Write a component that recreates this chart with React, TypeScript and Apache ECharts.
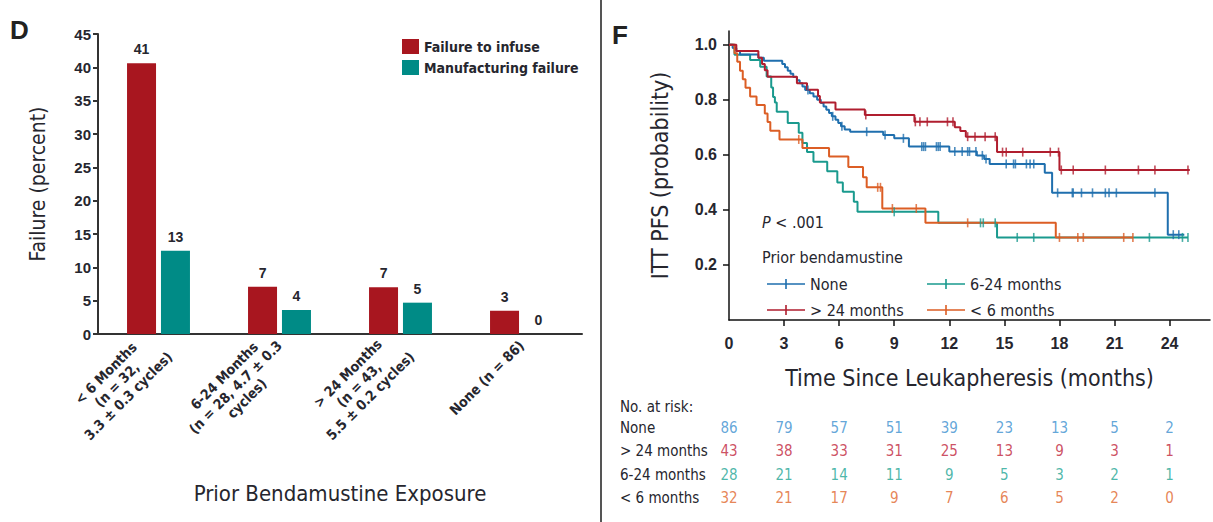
import React, { useEffect, useRef } from "react";
import * as echarts from "echarts";

// ---------- Panel D data ----------
const barCategories = [
  "< 6 Months\n(n = 32,\n3.3 ± 0.3 cycles)",
  "6-24 Months\n(n = 28, 4.7 ± 0.3\ncycles)",
  "> 24 Months\n(n = 43,\n5.5 ± 0.2 cycles)",
  "None (n = 86)",
];
const failureToInfuse = [40.6, 7.1, 7.0, 3.5];
const failureToInfuseLabels = ["41", "7", "7", "3"];
const manufacturingFailure = [12.5, 3.6, 4.7, 0];
const manufacturingFailureLabels = ["13", "4", "5", "0"];

// ---------- Panel F data (time in months, survival probability after step) ----------
const kmNone = [
  [0, 1.0], [0.2, 0.988], [0.4, 0.977], [0.6, 0.965], [1.6, 0.953], [1.9, 0.942], [2.9, 0.93],
  [3.05, 0.918], [3.2, 0.906], [3.35, 0.895], [3.5, 0.883], [3.7, 0.871], [3.85, 0.86], [4.0, 0.848],
  [4.15, 0.836], [4.4, 0.824], [4.6, 0.812], [4.8, 0.8], [5.0, 0.788], [5.15, 0.776], [5.3, 0.764],
  [5.45, 0.752], [5.6, 0.74], [5.8, 0.728], [5.95, 0.716], [6.1, 0.704], [6.3, 0.692], [6.6, 0.684],
  [8.4, 0.672], [9.0, 0.66], [9.8, 0.63], [12.0, 0.612], [13.5, 0.598], [13.9, 0.585], [14.2, 0.567],
  [17.2, 0.535], [17.6, 0.462], [23.9, 0.31], [24.8, 0.31],
];
const kmOver24 = [
  [0, 1.0], [0.4, 0.977], [1.6, 0.953], [1.8, 0.93], [1.95, 0.907], [2.1, 0.884], [3.7, 0.86],
  [4.25, 0.837], [4.85, 0.814], [4.95, 0.79], [5.8, 0.765], [7.4, 0.745], [10.1, 0.72], [12.3, 0.7],
  [12.6, 0.687], [12.9, 0.666], [14.6, 0.61], [18.0, 0.545], [25.1, 0.545],
];
const km6to24 = [
  [0, 1.0], [0.3, 0.964], [1.15, 0.945], [1.7, 0.92], [2.05, 0.885], [2.3, 0.845], [2.4, 0.81],
  [2.5, 0.79], [2.6, 0.757], [3.2, 0.716], [3.8, 0.68], [4.0, 0.643], [4.25, 0.61], [4.6, 0.575],
  [5.35, 0.54], [5.9, 0.5], [6.2, 0.466], [6.8, 0.43], [7.0, 0.393], [11.4, 0.353], [14.6, 0.3],
  [25.0, 0.3],
];
const kmUnder6 = [
  [0, 1.0], [0.3, 0.969], [0.45, 0.938], [0.6, 0.906], [0.75, 0.875], [0.9, 0.844], [1.15, 0.812],
  [1.5, 0.781], [1.95, 0.75], [2.1, 0.719], [2.25, 0.688], [2.75, 0.656], [4.0, 0.625], [5.45, 0.594],
  [6.5, 0.556], [7.3, 0.519], [7.5, 0.482], [8.35, 0.405], [10.7, 0.353], [17.8, 0.3], [22.0, 0.3],
];

// censoring times (months)
const censorNone = [4.3, 5.65, 6.15, 7.5, 8.5, 9.5, 10.5, 10.6, 10.7, 11.3, 11.4, 11.5, 12.3, 12.7, 13.0,
  13.1, 13.45, 13.8, 14.0, 15.1, 15.5, 15.6, 16.2, 16.4, 16.6, 17.9, 18.7, 18.75, 19.2, 19.8, 20.5,
  20.7, 21.1, 23.2, 24.2, 24.5];
const censorOver24 = [7.45, 10.15, 10.4, 10.8, 11.9, 12.2, 13.0, 13.4, 13.95, 14.5, 14.9, 15.1, 16.0,
  17.5, 17.95, 18.1, 18.75, 20.5, 22.3, 23.2, 25.0];
const censor6to24 = [9.0, 13.7, 13.85, 14.5, 15.7, 16.6, 22.9, 24.7, 25.0];
const censorUnder6 = [3.8, 8.1, 8.25, 8.9, 10.2, 13.0, 18.0, 19.0, 19.3, 21.5, 22.0];

// numbers at risk
const riskTimes = [0, 3, 6, 9, 12, 15, 18, 21, 24];
const riskRows = ["None", "> 24 months", "6-24 months", "< 6 months"];
const riskNone = [86, 79, 57, 51, 39, 23, 13, 5, 2];
const riskOver24 = [43, 38, 33, 31, 25, 13, 9, 3, 1];
const risk6to24 = [28, 21, 14, 11, 9, 5, 3, 2, 1];
const riskUnder6 = [32, 21, 17, 9, 7, 6, 5, 2, 0];

const xTicksF = [3, 6, 9, 12, 15, 18, 21, 24];
const xLabelsF = [0, 3, 6, 9, 12, 15, 18, 21, 24];
const yTicksF = [0.2, 0.4, 0.6, 0.8, 1.0];

const NARROW =
  "'Liberation Sans Narrow', 'Arial Narrow', 'DejaVu Sans Condensed', 'Liberation Sans', Arial, sans-serif";
const SANS = "'Liberation Sans', Arial, Helvetica, sans-serif";
const TXT = "#26262e";

const C_RED_BAR = "#a8161f";
const C_TEAL_BAR = "#008b86";
const C_BLUE = "#1f6fae";
const C_RED = "#b01e2f";
const C_TEAL = "#1a9a8e";
const C_ORANGE = "#dc5e25";
const R_BLUE = "#3b8fcf";
const R_RED = "#c0233a";
const R_TEAL = "#1ea593";
const R_ORANGE = "#e0662b";

function survivalAt(curve: number[][], t: number) {
  let s = curve[0][1];
  for (const [ti, si] of curve) {
    if (ti <= t) s = si;
    else break;
  }
  return s;
}

function kmSeries(name: string, curve: number[][], color: string, z: number) {
  return {
    type: "line",
    name,
    xAxisIndex: 1,
    yAxisIndex: 1,
    step: "end",
    data: curve,
    symbol: "none",
    z,
    lineStyle: { color, width: 2 },
    itemStyle: { color },
    silent: true,
  };
}

function censorSeries(name: string, curve: number[][], times: number[], color: string, z: number) {
  return {
    type: "scatter",
    name: name + " censored",
    xAxisIndex: 1,
    yAxisIndex: 1,
    data: times.map((t) => [t, survivalAt(curve, t)]),
    symbol: "rect",
    symbolSize: [1.6, 9],
    itemStyle: { color },
    z,
    silent: true,
  };
}

function riskSeries(row: string, counts: number[], color: string) {
  return {
    type: "scatter",
    name: "risk " + row,
    xAxisIndex: 2,
    yAxisIndex: 2,
    data: riskTimes.map((t, i) => [t, row, counts[i]]),
    symbolSize: 1,
    itemStyle: { color: "transparent" },
    label: {
      show: true,
      position: "inside",
      formatter: (p: any) => String(p.value[2]),
      color,
      fontSize: 15,
      fontFamily: NARROW,
    },
    silent: true,
  };
}

const legendIcon = "path://M0,4.2L38,4.2L38,5.8L0,5.8Z M18.2,0L19.8,0L19.8,10L18.2,10Z";

export default function App() {
  const ref = useRef<HTMLDivElement>(null);

  useEffect(() => {
    if (!ref.current) return;
    const chart = echarts.init(ref.current, undefined, { renderer: "svg" });
    const option: any = {
      animation: false,
      backgroundColor: "#ffffff",
      textStyle: { fontFamily: SANS },
      grid: [
        { left: 98, top: 34, width: 484, height: 300 },
        { left: 729, top: 31, width: 481, height: 289 },
        { left: 729, top: 416.5, width: 481, height: 93.3 },
      ],
      legend: [
        {
          data: ["Failure to infuse", "Manufacturing failure"],
          orient: "vertical",
          left: 397,
          top: 34,
          itemWidth: 17,
          itemHeight: 15,
          itemGap: 6,
          icon: "rect",
          textStyle: { fontSize: 14, fontWeight: "bold", color: TXT, fontFamily: NARROW },
          selectedMode: false,
        },
        {
          data: ["None", "> 24 months"],
          orient: "vertical",
          left: 762,
          top: 271,
          itemWidth: 38,
          itemHeight: 10,
          itemGap: 10,
          icon: legendIcon,
          textStyle: { fontSize: 16, color: TXT, fontFamily: NARROW },
          selectedMode: false,
        },
        {
          data: ["6-24 months", "< 6 months"],
          orient: "vertical",
          left: 922,
          top: 271,
          itemWidth: 38,
          itemHeight: 10,
          itemGap: 10,
          icon: legendIcon,
          textStyle: { fontSize: 16, color: TXT, fontFamily: NARROW },
          selectedMode: false,
        },
      ],
      xAxis: [
        {
          gridIndex: 0,
          type: "category",
          data: barCategories,
          axisLine: { lineStyle: { color: "#333", width: 2 } },
          axisTick: { show: false },
          axisLabel: {
            interval: 0,
            rotate: 45,
            margin: 9,
            color: TXT,
            formatter: (v: string) =>
              v.split("\n").map((l) => `{c|${l}}`).join("\n"),
            rich: {
              c: {
                align: "center",
                fontSize: 14,
                fontWeight: "bold",
                lineHeight: 16,
                color: TXT,
                fontFamily: NARROW,
              },
            },
          },
          name: "Prior Bendamustine Exposure",
          nameLocation: "middle",
          nameGap: 148,
          nameTextStyle: { fontSize: 22, color: TXT, fontFamily: NARROW },
        },
        {
          gridIndex: 1,
          type: "value",
          min: 0,
          max: 26.2,
          axisLine: { show: true, onZero: false, lineStyle: { color: "#111", width: 1.5 } },
          axisTick: { show: true, length: 6, customValues: xTicksF, lineStyle: { color: "#111", width: 1.5 } },
          axisLabel: {
            customValues: xLabelsF,
            margin: 15,
            fontSize: 16,
            fontWeight: "bold",
            color: TXT,
            fontFamily: SANS,
          },
          splitLine: { show: false },
          name: "Time Since Leukapheresis (months)",
          nameLocation: "middle",
          nameGap: 46,
          nameTextStyle: { fontSize: 23, color: TXT, fontFamily: NARROW },
        },
        {
          gridIndex: 2,
          type: "value",
          min: 0,
          max: 26.2,
          show: false,
        },
      ],
      yAxis: [
        {
          gridIndex: 0,
          type: "value",
          min: 0,
          max: 45,
          interval: 5,
          axisLine: { show: true, lineStyle: { color: "#333", width: 2 } },
          axisTick: { show: true, length: 5, lineStyle: { color: "#333", width: 2 } },
          axisLabel: { fontSize: 15, fontWeight: "bold", color: TXT, margin: 7, fontFamily: SANS },
          splitLine: { show: false },
          name: "Failure (percent)",
          nameLocation: "middle",
          nameGap: 50,
          nameTextStyle: { fontSize: 21, color: TXT, fontFamily: NARROW },
        },
        {
          gridIndex: 1,
          type: "value",
          min: 0,
          max: 1.05,
          axisLine: { show: true, onZero: false, lineStyle: { color: "#111", width: 1.5 } },
          axisTick: { show: true, length: 6, customValues: yTicksF, lineStyle: { color: "#111", width: 1.5 } },
          axisLabel: {
            customValues: yTicksF,
            formatter: (v: number) => v.toFixed(1),
            margin: 12,
            fontSize: 16,
            fontWeight: "bold",
            color: TXT,
            fontFamily: SANS,
          },
          splitLine: { show: false },
          name: "ITT PFS (probability)",
          nameLocation: "middle",
          nameGap: 58,
          nameTextStyle: { fontSize: 23, color: TXT, fontFamily: NARROW },
        },
        {
          gridIndex: 2,
          type: "category",
          data: riskRows,
          inverse: true,
          axisLine: { show: false },
          axisTick: { show: false },
          splitLine: { show: false },
          axisLabel: {
            align: "left",
            margin: 109,
            fontSize: 15,
            color: TXT,
            fontFamily: NARROW,
          },
        },
      ],
      series: [
        {
          type: "bar",
          name: "Failure to infuse",
          xAxisIndex: 0,
          yAxisIndex: 0,
          data: failureToInfuse,
          barWidth: 29,
          barGap: "17%",
          itemStyle: { color: C_RED_BAR },
          label: {
            show: true,
            position: "top",
            distance: 7,
            formatter: (p: any) => failureToInfuseLabels[p.dataIndex],
            fontSize: 14,
            fontWeight: "bold",
            color: TXT,
            fontFamily: SANS,
          },
        },
        {
          type: "bar",
          name: "Manufacturing failure",
          xAxisIndex: 0,
          yAxisIndex: 0,
          data: manufacturingFailure,
          barWidth: 29,
          itemStyle: { color: C_TEAL_BAR },
          label: {
            show: true,
            position: "top",
            distance: 7,
            formatter: (p: any) => manufacturingFailureLabels[p.dataIndex],
            fontSize: 14,
            fontWeight: "bold",
            color: TXT,
            fontFamily: SANS,
          },
        },
        kmSeries("6-24 months", km6to24, C_TEAL, 3),
        kmSeries("None", kmNone, C_BLUE, 4),
        kmSeries("< 6 months", kmUnder6, C_ORANGE, 5),
        kmSeries("> 24 months", kmOver24, C_RED, 6),
        censorSeries("6-24 months", km6to24, censor6to24, C_TEAL, 7),
        censorSeries("None", kmNone, censorNone, C_BLUE, 8),
        censorSeries("< 6 months", kmUnder6, censorUnder6, C_ORANGE, 9),
        censorSeries("> 24 months", kmOver24, censorOver24, C_RED, 10),
        riskSeries("None", riskNone, R_BLUE),
        riskSeries("> 24 months", riskOver24, R_RED),
        riskSeries("6-24 months", risk6to24, R_TEAL),
        riskSeries("< 6 months", riskUnder6, R_ORANGE),
      ],
      graphic: [
        {
          type: "line",
          shape: { x1: 601, y1: 0, x2: 601, y2: 522 },
          style: { stroke: "#555", lineWidth: 2 },
          silent: true,
        },
        {
          type: "text",
          left: 10,
          top: 17,
          style: { text: "D", fontSize: 26, fontWeight: "bold", fill: "#222", fontFamily: SANS },
        },
        {
          type: "text",
          left: 612,
          top: 22,
          style: { text: "F", fontSize: 26, fontWeight: "bold", fill: "#222", fontFamily: SANS },
        },
        {
          type: "text",
          left: 762,
          top: 214,
          style: {
            text: "{i|P} < .001",
            rich: {
              i: { fontStyle: "italic", fontSize: 16, fill: TXT, fontFamily: NARROW },
            },
            fontSize: 16,
            fill: TXT,
            fontFamily: NARROW,
          },
        },
        {
          type: "text",
          left: 762,
          top: 249,
          style: { text: "Prior bendamustine", fontSize: 16, fill: TXT, fontFamily: NARROW },
        },
        {
          type: "text",
          left: 620,
          top: 399,
          style: { text: "No. at risk:", fontSize: 15, fill: TXT, fontFamily: NARROW },
        },
      ],
    };
    chart.setOption(option);
    return () => chart.dispose();
  }, []);

  return (
    <div
      ref={ref}
      style={{ position: "fixed", left: 0, top: 0, width: 1213, height: 522, background: "#fff" }}
    />
  );
}
